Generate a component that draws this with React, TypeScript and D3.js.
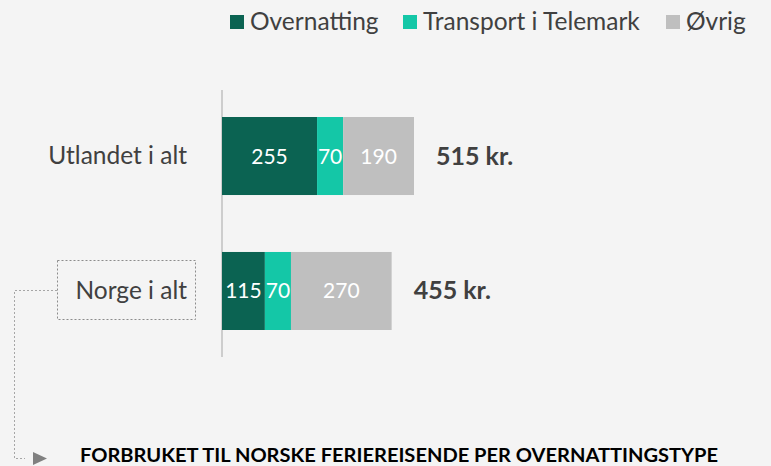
import React from "react";
import * as d3 from "d3";

const categories = ["Utlandet i alt", "Norge i alt"];
const seriesNames = ["Overnatting", "Transport i Telemark", "Øvrig"];
const overnatting = [255, 115];
const transport = [70, 70];
const ovrig = [190, 270];
const totalLabels = ["515 kr.", "455 kr."];
const title = "FORBRUKET TIL NORSKE FERIEREISENDE PER OVERNATTINGSTYPE";
const colors = ["#0b6352", "#14c7a7", "#bfbfbf"];

const W = 771;
const H = 466;
const FONT = "Lato, 'Open Sans', sans-serif";

export default function App() {
  const series = [overnatting, transport, ovrig];
  const x = d3.scaleLinear().domain([0, 515]).range([222, 414]);
  const y = d3.scaleBand().domain(categories).range([117, 330]).paddingInner(0.422).paddingOuter(0);
  const stackData = categories.map((c, i) => {
    const o: any = { cat: c };
    seriesNames.forEach((s, j) => (o[s] = series[j][i]));
    return o;
  });
  const stacked = d3.stack<any>().keys(seriesNames)(stackData);
  const bw = y.bandwidth();
  const legendX = [230, 403, 666];

  return (
    <svg width={W} height={H} style={{ position: "absolute", left: 0, top: 0, background: "#f4f4f4" }} fontFamily={FONT}>
      <rect x={0} y={0} width={W} height={H} fill="#f4f4f4" />
      {/* legend */}
      {seriesNames.map((s, j) => (
        <g key={s}>
          <rect x={legendX[j]} y={15} width={14} height={14} fill={colors[j]} />
          <text x={legendX[j] + 20} y={30} fontSize={24.5} fill="#404040">{s}</text>
        </g>
      ))}
      {/* axis line */}
      <line x1={x(0)} x2={x(0)} y1={90} y2={357} stroke="#a6a6a6" strokeWidth={1} />
      {/* bars */}
      {stacked.map((layer, j) =>
        layer.map((d, i) => {
          const x0 = x(d[0]);
          const x1 = x(d[1]);
          const yy = y(categories[i])!;
          return (
            <g key={`${j}-${i}`}>
              <rect x={x0} y={yy} width={x1 - x0} height={bw} fill={colors[j]} />
              <text x={(x0 + x1) / 2} y={yy + bw / 2 + 7.5} textAnchor="middle" fontSize={21} fill="#ffffff">
                {series[j][i]}
              </text>
            </g>
          );
        })
      )}
      {/* totals */}
      {categories.map((c, i) => {
        const total = overnatting[i] + transport[i] + ovrig[i];
        return (
          <text key={c} x={x(total) + 22} y={y(c)! + bw / 2 + 8.5} fontSize={25} fontWeight="bold" fill="#404040">
            {totalLabels[i]}
          </text>
        );
      })}
      {/* category labels */}
      {categories.map((c) => (
        <text key={c} x={187} y={y(c)! + bw / 2 + 8} textAnchor="end" fontSize={24.5} fill="#404040">{c}</text>
      ))}
      {/* dashed box + connector */}
      <rect x={57.5} y={260.5} width={138} height={59} fill="none" stroke="#8c8c8c" strokeDasharray="2,2" strokeWidth={1} />
      <path d="M57,290.5 H14.5 V458.5 H25" fill="none" stroke="#a6a6a6" strokeDasharray="2,2" strokeWidth={1} />
      <path d="M33,452 L47,458.5 L33,465 Z" fill="#808080" />
      <text x={80} y={462} fontSize={18} fontWeight="bold" fill="#000000" textLength={638} lengthAdjust="spacingAndGlyphs">
        {title}
      </text>
    </svg>
  );
}
